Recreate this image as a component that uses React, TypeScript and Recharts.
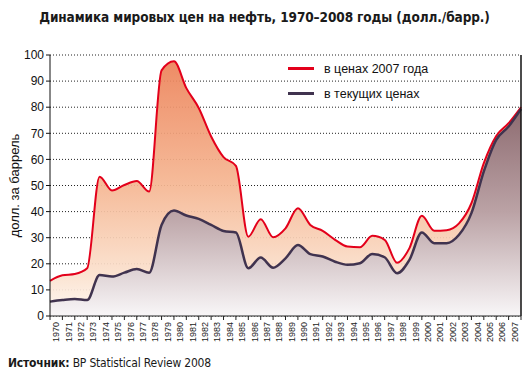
import React from 'react';
import { ComposedChart, Area, XAxis, YAxis, CartesianGrid, ReferenceLine } from 'recharts';

const YEARS = [
  1970, 1971, 1972, 1973, 1974, 1975, 1976, 1977, 1978, 1979,
  1980, 1981, 1982, 1983, 1984, 1985, 1986, 1987, 1988, 1989,
  1990, 1991, 1992, 1993, 1994, 1995, 1996, 1997, 1998, 1999,
  2000, 2001, 2002, 2003, 2004, 2005, 2006, 2007, 2008,
];

// в ценах 2007 года
const REAL_PRICES = [
  13.5, 15.6, 16.1, 18.3, 53.4, 48.1, 50.2, 51.7, 47.7, 94.1,
  97.6, 87.3, 79.7, 68.8, 60.9, 57.5, 30.4, 37.1, 30.2, 33.6,
  41.3, 34.9, 32.6, 29.2, 26.6, 26.3, 30.7, 29.2, 20.4, 26.0,
  38.4, 32.7, 32.9, 35.5, 43.2, 58.6, 69.0, 73.9, 80.0,
];

// в текущих ценах
const NOMINAL_PRICES = [
  5.5, 6.1, 6.5, 6.1, 15.7, 15.1, 16.6, 18.0, 16.6, 34.9,
  40.4, 38.5, 37.2, 34.9, 32.6, 32.0, 18.3, 22.4, 18.5, 22.1,
  27.2, 23.7, 22.8, 20.8, 19.6, 20.2, 23.8, 22.5, 16.4, 21.5,
  32.0, 27.9, 27.9, 31.1, 39.4, 55.4, 67.5, 72.6, 79.3,
];

const Y_TICKS = [0, 10, 20, 30, 40, 50, 60, 70, 80, 90, 100];

const TITLE = 'Динамика мировых цен на нефть, 1970–2008 годы (долл./барр.)';
const Y_LABEL = 'долл. за баррель';
const LEGEND_REAL = 'в ценах 2007 года';
const LEGEND_NOMINAL = 'в текущих ценах';

const data = YEARS.map((year, i) => ({
  year,
  real: REAL_PRICES[i],
  nominal: NOMINAL_PRICES[i],
}));

const NARROW = '"DejaVu Sans Condensed", "Liberation Sans Narrow", sans-serif';
const SANS = '"Liberation Sans", Arial, sans-serif';
const RED = '#e3001b';
const DARK = '#40334f';

const BAND = (521 - 50) / 38;

const YearTick = (props: any) => {
  const { x, y, payload } = props;
  const year = payload.value;
  const lx = x + BAND / 2;
  const ly = y + 6;
  return (
    <g>
      <line x1={x} y1={y} x2={x} y2={y + 4} stroke="#222" strokeWidth={1} />
      {year < 2008 && (
        <text
          x={lx}
          y={ly}
          transform={`rotate(-90 ${lx} ${ly})`}
          textAnchor="end"
          dominantBaseline="central"
          fontSize={9}
          fontFamily={SANS}
          fill="#222"
        >
          {year}
        </text>
      )}
    </g>
  );
};

const LEGEND_ITEMS = [
  { label: LEGEND_REAL, color: RED },
  { label: LEGEND_NOMINAL, color: DARK },
];

export default function App() {
  return (
    <div style={{ position: 'absolute', left: 0, top: 0, width: 529, height: 376, background: '#fff' }}>
      <div
        style={{
          position: 'absolute',
          left: 0,
          top: 9,
          width: 529,
          textAlign: 'center',
          fontFamily: NARROW,
          fontWeight: 'bold',
          fontSize: 13.5,
          letterSpacing: -0.1,
          color: '#1a1a1a',
        }}
      >
        {TITLE}
      </div>
      <ComposedChart
        width={529}
        height={376}
        data={data}
        margin={{ top: 55, right: 8, left: 0, bottom: 10 }}
      >
        <defs>
          <linearGradient id="realFill" gradientUnits="userSpaceOnUse" x1="0" y1="55" x2="0" y2="316">
            <stop offset="0%" stopColor="#ec7f55" />
            <stop offset="50%" stopColor="#f5b692" />
            <stop offset="85%" stopColor="#fbe2cf" />
            <stop offset="100%" stopColor="#fff8f3" />
          </linearGradient>
          <linearGradient id="nominalFill" gradientUnits="userSpaceOnUse" x1="0" y1="108" x2="0" y2="316">
            <stop offset="0%" stopColor="#876870" />
            <stop offset="50%" stopColor="#b7a0a5" />
            <stop offset="100%" stopColor="#f8f6f8" />
          </linearGradient>
        </defs>
        <CartesianGrid vertical={false} stroke="#222" strokeDasharray="1 2" />
        <XAxis
          dataKey="year"
          type="number"
          domain={[1970, 2008]}
          ticks={YEARS}
          interval={0}
          height={50}
          tickSize={0}
          tickMargin={0}
          tickLine={false}
          tick={<YearTick />}
          axisLine={{ stroke: '#222' }}
        />
        <YAxis
          domain={[0, 100]}
          ticks={Y_TICKS}
          interval={0}
          width={50}
          tickSize={4}
          tickMargin={2}
          axisLine={{ stroke: '#111' }}
          tickLine={{ stroke: '#111' }}
          tick={{ fontSize: 12, fontFamily: SANS, fill: '#111' }}
          label={{
            value: Y_LABEL,
            angle: -90,
            position: 'insideLeft',
            offset: 0,
            dx: 14,
            style: { fontSize: 13, fontFamily: SANS, fill: '#111', textAnchor: 'middle' },
          }}
        />
        <ReferenceLine x={2008} stroke="#111" strokeWidth={1.5} />
        <Area
          type="monotone"
          dataKey="real"
          stroke={RED}
          strokeWidth={2}
          fill="url(#realFill)"
          fillOpacity={0.92}
          isAnimationActive={false}
          dot={false}
          activeDot={false}
        />
        <Area
          type="monotone"
          dataKey="nominal"
          stroke={DARK}
          strokeWidth={2.5}
          fill="url(#nominalFill)"
          fillOpacity={0.94}
          isAnimationActive={false}
          dot={false}
          activeDot={false}
        />
      </ComposedChart>
      <div style={{ position: 'absolute', left: 288, top: 56, fontFamily: SANS, fontSize: 12.5, color: '#111' }}>
        {LEGEND_ITEMS.map((item) => (
          <div key={item.label} style={{ display: 'flex', alignItems: 'center', height: 25 }}>
            <span style={{ display: 'inline-block', width: 26, height: 3, background: item.color, marginRight: 10 }} />
            <span>{item.label}</span>
          </div>
        ))}
      </div>
      <div
        style={{
          position: 'absolute',
          left: 8,
          top: 356,
          fontFamily: NARROW,
          fontSize: 12,
          letterSpacing: -0.2,
          color: '#1a1a1a',
        }}
      >
        <b>Источник:</b> BP Statistical Review 2008
      </div>
    </div>
  );
}
